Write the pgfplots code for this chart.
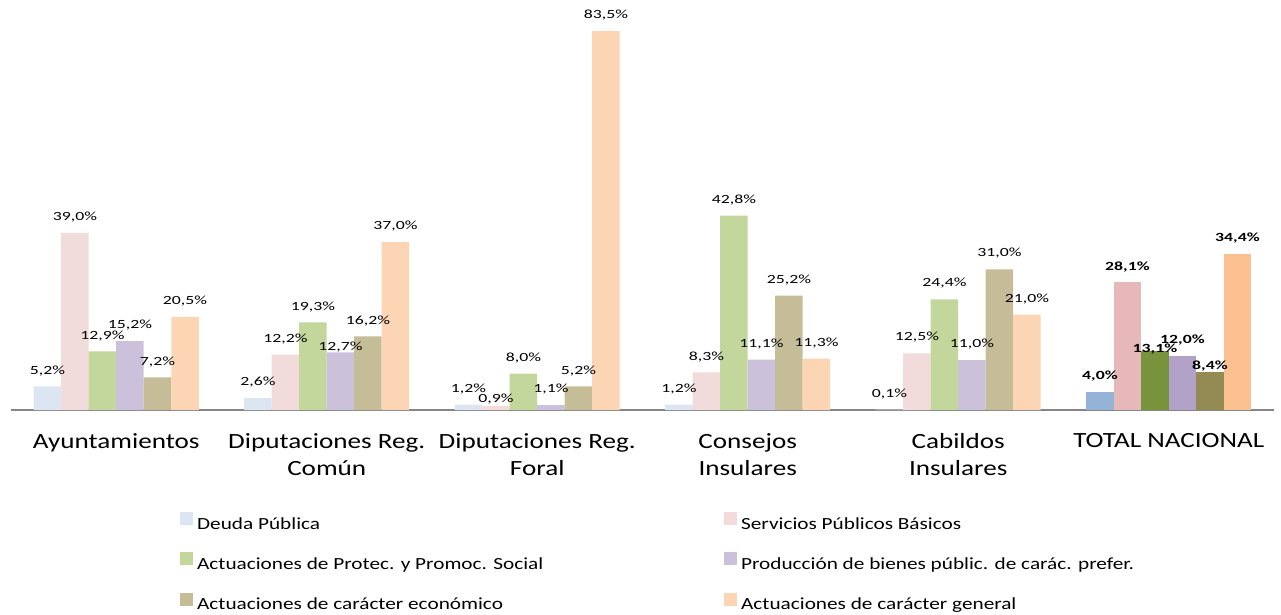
\documentclass[border=0pt]{standalone}
\usepackage{pgfplots}
\pgfplotsset{compat=1.18}
\usepackage{fontspec}
\setmainfont[FakeStretch=1.25]{Carlito}
\newfontfamily\lblfont[FakeStretch=1.42]{Carlito}
\definecolor{c1}{HTML}{DCE6F2}\definecolor{d1}{HTML}{95B3D7}
\definecolor{c2}{HTML}{F2DCDB}\definecolor{d2}{HTML}{E6B9B8}
\definecolor{c3}{HTML}{C3D69B}\definecolor{d3}{HTML}{77933C}
\definecolor{c4}{HTML}{CCC1DA}\definecolor{d4}{HTML}{B3A2C7}
\definecolor{c5}{HTML}{C4BD97}\definecolor{d5}{HTML}{948A54}
\definecolor{c6}{HTML}{FCD5B5}\definecolor{d6}{HTML}{FAC090}
\definecolor{axgray}{HTML}{868686}
\begin{document}
\begin{tikzpicture}
\path[use as bounding box] (0,0) rectangle (1281pt,614pt);
\begin{axis}[
  at={(11pt,204pt)}, anchor=south west,
  scale only axis, width=1263pt, height=410pt,
  xmin=-0.5, xmax=5.5, ymin=0, ymax=90.33,
  axis y line=none, axis x line*=bottom,
  x axis line style={-, draw=axgray, line width=1.3pt},
  xtick={0,1,2,3,4,5},
  xticklabels={Ayuntamientos,{Diputaciones Reg.\\Común},{Diputaciones Reg.\\Foral},{Consejos\\Insulares},{Cabildos\\Insulares},TOTAL NACIONAL},
  xtick style={draw=none},
  xticklabel style={font=\fontsize{21.7}{27}\selectfont, align=center, inner sep=0pt, yshift=-19pt},
  ybar=0pt, bar width=27.5pt,
  visualization depends on={\thisrow{dy} \as \dy},
  nodes near coords={\pgfmathprintnumber[fixed,fixed zerofill,precision=1,use comma,assume math mode=true]{\pgfplotspointmeta}\%},
  every node near coord/.append style={font=\lblfont\fontsize{12.5}{14}\selectfont, inner sep=0pt, yshift=10.5pt, yshift=\dy, text=black},
  legend columns=2,
  legend style={draw=none, fill=none, at={(axis description cs:0.1314,-0.2439)}, anchor=north west,
    font=\fontsize{17}{20}\selectfont, row sep=21.5pt, nodes={inner sep=0pt},
    /tikz/every odd column/.append style={column sep=4pt},
    /tikz/every even column/.append style={column sep=7pt}},
  legend image code/.code={\fill[#1] (0pt,-1pt) rectangle (13pt,12pt);},
  legend cell align=left,
]
\addplot[fill=c1, draw=none, bar shift=-68.75pt] table {
x y dy
0 5.2 0
1 2.6 0
2 1.2 0
3 1.2 0
4 0.1 0
};
\addlegendentry{\makebox[520pt][l]{Deuda Pública}}
\addplot[fill=c2, draw=none, bar shift=-41.25pt] table {
x y dy
0 39.0 0
1 12.2 0
2 0.9 -9
3 8.3 0
4 12.5 0
};
\addlegendentry{Servicios Públicos Básicos}
\addplot[fill=c3, draw=none, bar shift=-13.75pt] table {
x y dy
0 12.9 0
1 19.3 0
2 8.0 0
3 42.8 0
4 24.4 0
};
\addlegendentry{\makebox[520pt][l]{Actuaciones de Protec. y Promoc. Social}}
\addplot[fill=c4, draw=none, bar shift=13.75pt] table {
x y dy
0 15.2 0
1 12.7 -10
2 1.1 0
3 11.1 0
4 11.0 0
};
\addlegendentry{Producción de bienes públic. de carác. prefer.}
\addplot[fill=c5, draw=none, bar shift=41.25pt] table {
x y dy
0 7.2 0
1 16.2 0
2 5.2 0
3 25.2 0
4 31.0 0
};
\addlegendentry{\makebox[520pt][l]{Actuaciones de carácter económico}}
\addplot[fill=c6, draw=none, bar shift=68.75pt] table {
x y dy
0 20.5 0
1 37.0 0
2 83.5 0
3 11.3 0
4 21.0 0
};
\addlegendentry{Actuaciones de carácter general}
\pgfplotsset{totlbl/.style={every node near coord/.append style={font=\lblfont\fontsize{12.5}{14}\selectfont\bfseries}}}
\addplot[fill=d1, draw=none, bar shift=-68.75pt, forget plot, totlbl] table {
x y dy
5 4.0 0
};
\addplot[fill=d2, draw=none, bar shift=-41.25pt, forget plot, totlbl] table {
x y dy
5 28.1 0
};
\addplot[fill=d3, draw=none, bar shift=-13.75pt, forget plot, totlbl] table {
x y dy
5 13.1 -14
};
\addplot[fill=d4, draw=none, bar shift=13.75pt, forget plot, totlbl] table {
x y dy
5 12.0 0
};
\addplot[fill=d5, draw=none, bar shift=41.25pt, forget plot, totlbl] table {
x y dy
5 8.4 -10
};
\addplot[fill=d6, draw=none, bar shift=68.75pt, forget plot, totlbl] table {
x y dy
5 34.4 0
};
\end{axis}
\end{tikzpicture}
\end{document}
